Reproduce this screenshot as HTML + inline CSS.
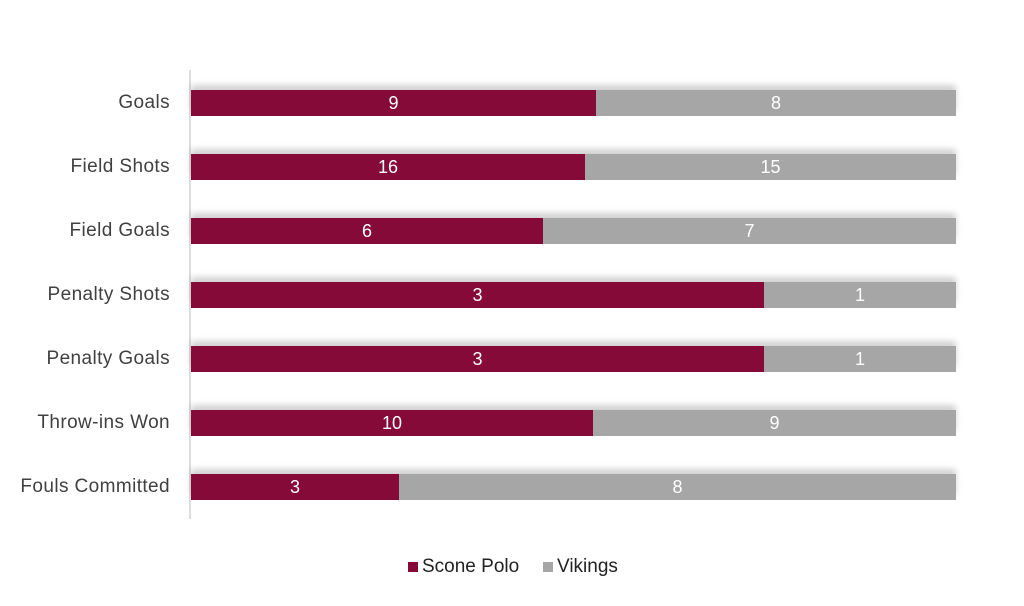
<!DOCTYPE html>
<html><head><style>
body{margin:0;width:1024px;height:606px;background:#fff;position:relative;font-family:"Liberation Sans",sans-serif;overflow:hidden}
.ax{position:absolute;left:189px;top:70px;width:2px;height:449px;background:#ddd}
.lab{position:absolute;right:854px;font-size:19px;letter-spacing:0.4px;color:#404040;text-align:right;white-space:nowrap;line-height:26px}
.row{position:absolute;left:191px;width:765px;height:26px;display:flex;box-shadow:0 -5px 6px rgba(0,0,0,0.18)}
.a{background:#860a37;color:#fff;display:flex;align-items:center;justify-content:center;font-size:18px}
.b{background:#a6a6a6;color:#fff;display:flex;align-items:center;justify-content:center;font-size:18px;flex:1}
.leg{position:absolute;top:555px;font-size:19px;color:#222;line-height:24px}
.sq{display:inline-block;width:10px;height:10px;margin-right:4px;vertical-align:0px}
</style></head><body>
<div class="ax"></div>
<div class="lab" style="top:90px">Goals</div>
<div class="row" style="top:90px"><div class="a" style="width:405px">9</div><div class="b">8</div></div>
<div class="lab" style="top:154px">Field Shots</div>
<div class="row" style="top:154px"><div class="a" style="width:394px">16</div><div class="b">15</div></div>
<div class="lab" style="top:218px">Field Goals</div>
<div class="row" style="top:218px"><div class="a" style="width:352px">6</div><div class="b">7</div></div>
<div class="lab" style="top:282px">Penalty Shots</div>
<div class="row" style="top:282px"><div class="a" style="width:573px">3</div><div class="b">1</div></div>
<div class="lab" style="top:346px">Penalty Goals</div>
<div class="row" style="top:346px"><div class="a" style="width:573px">3</div><div class="b">1</div></div>
<div class="lab" style="top:410px">Throw-ins Won</div>
<div class="row" style="top:410px"><div class="a" style="width:402px">10</div><div class="b">9</div></div>
<div class="lab" style="top:474px">Fouls Committed</div>
<div class="row" style="top:474px"><div class="a" style="width:208px">3</div><div class="b">8</div></div>
<div class="leg" style="left:408px"><span class="sq" style="background:#860a37"></span>Scone Polo</div>
<div class="leg" style="left:543px"><span class="sq" style="background:#a6a6a6"></span>Vikings</div>
</body></html>
